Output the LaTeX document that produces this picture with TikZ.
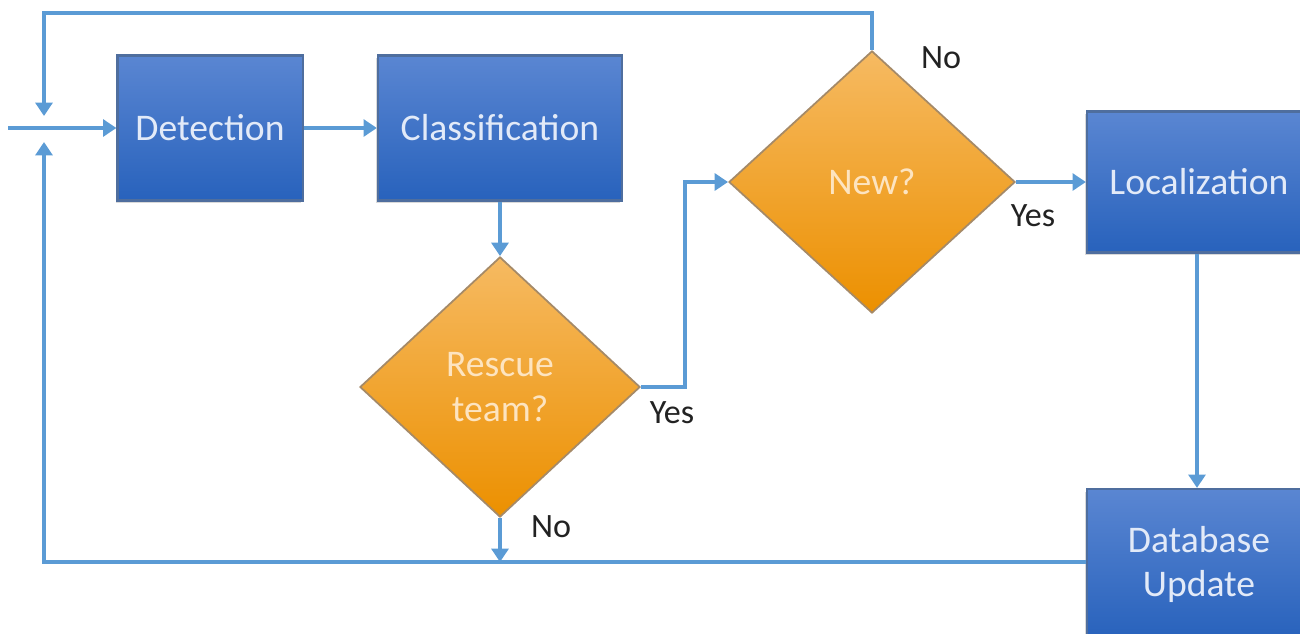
\documentclass[tikz,border=0pt]{standalone}
\usepackage{fontspec}
\setmainfont{Carlito}
\usetikzlibrary{shapes.geometric,arrows.meta,shadows}

\definecolor{boxtop}{HTML}{5A86D2}
\definecolor{boxbot}{HTML}{2862BC}
\definecolor{boxedge}{HTML}{4F6E9E}
\definecolor{boxtext}{HTML}{E2EAF8}
\definecolor{dectop}{HTML}{F6BA62}
\definecolor{decbot}{HTML}{EC9000}
\definecolor{decedge}{HTML}{A58A68}
\definecolor{dectext}{HTML}{FDE4C0}
\definecolor{linkblue}{HTML}{5B9BD5}
\definecolor{labeltext}{HTML}{222222}

\tikzset{
  flowbox/.style={rectangle, top color=boxtop, bottom color=boxbot,
    draw=boxedge, line width=0.6pt, text=boxtext, align=center,
    font=\fontsize{10.7}{12.5}\selectfont,
    drop shadow={shadow xshift=-0.5pt, shadow yshift=-0.8pt, opacity=0.3}},
  decision/.style={diamond, top color=dectop, bottom color=decbot,
    draw=decedge, line width=0.5pt, inner sep=0pt, text=dectext,
    align=center, font=\fontsize{10.7}{12.8}\selectfont},
  link/.style={draw=linkblue, line width=1.25pt,
    -{Triangle[length=3.8pt,width=4.8pt]}},
  lbl/.style={text=labeltext, font=\fontsize{9.7}{11}\selectfont}
}

\begin{document}
\begin{tikzpicture}[x=0.01cm, y=-0.01cm]
  \useasboundingbox (0,0) rectangle (1300,633);

  % process boxes
  \node[flowbox, minimum width=1.85cm, minimum height=1.45cm] (det) at (210,128) {Detection};
  \node[flowbox, minimum width=2.44cm, minimum height=1.45cm] (cls) at (500,128) {Classification};
  \node[flowbox, minimum width=2.24cm, minimum height=1.41cm] (loc) at (1199,182) {Localization};
  \node[flowbox, minimum width=2.24cm, minimum height=1.50cm] (db) at (1199,564) {Database\\Update};

  % decisions
  \node[decision, minimum width=2.80cm, minimum height=2.60cm] (resc) at (500,387) {Rescue\\team?};
  \node[decision, minimum width=2.86cm, minimum height=2.62cm] (new) at (872,182) {New?};

  % junction on the input line
  \coordinate (in) at (8,128);
  \coordinate (jtop) at (44,116);
  \coordinate (jbot) at (44,142);
  \coordinate (topleft) at (44,13);
  \coordinate (jog) at (685,0);
  \coordinate (loopy) at (0,562);
  \coordinate (dropx) at (1197,0);

  % connectors
  \draw[link] (in) -- (det.west);
  \draw[link] (det) -- (cls);
  \draw[link] (cls.south) -- (resc.north);
  \draw[link] (resc.east) -- (resc.east -| jog) -- (new.west -| jog) -- (new.west);
  \draw[link] (new.east) -- (loc.west);
  \draw[link] (loc.south -| dropx) -- (db.north -| dropx);
  \draw[link] (new.north) |- (topleft) -- (jtop);
  \draw[link] (db.west |- loopy) -| (jbot);
  \draw[link] (resc.south) -- (resc.south |- loopy);

  % branch labels
  \node[lbl] (noNew) at (941,58) {No};
  \node[lbl] (yesNew) at (1033,216) {Yes};
  \node[lbl] (yesResc) at (672,413) {Yes};
  \node[lbl] (noResc) at (551,527) {No};
\end{tikzpicture}
\end{document}
